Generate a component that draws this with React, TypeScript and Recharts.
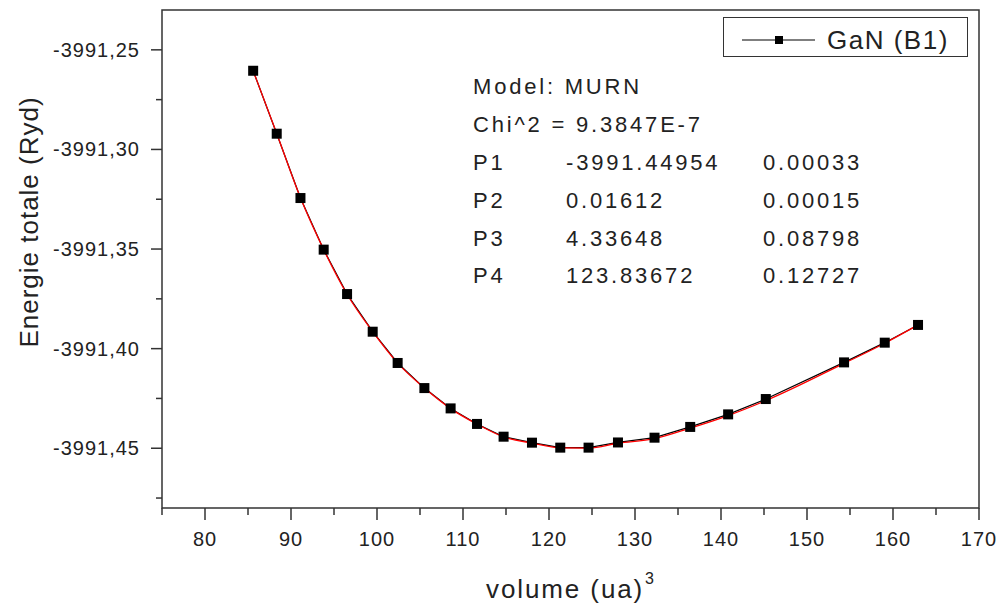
import { ComposedChart, Line, XAxis, YAxis, ReferenceArea } from "recharts";

// volume (ua)^3 of each calculated point
const volume = [
  85.6, 88.34, 91.1, 93.8, 96.52, 99.5, 102.4, 105.51, 108.56, 111.63, 114.72,
  118.02, 121.31, 124.6, 128.02, 132.27, 136.42, 140.83, 145.21, 154.31, 159.04, 162.91,
];

// total energy (Ryd) of each point
const energy = [
  -3991.2605, -3991.2921, -3991.3244, -3991.3503, -3991.3726, -3991.3915, -3991.4072,
  -3991.4198, -3991.43, -3991.4378, -3991.4442, -3991.4472, -3991.4497, -3991.4497,
  -3991.4471, -3991.4447, -3991.4393, -3991.433, -3991.4253, -3991.4069, -3991.397,
  -3991.3881,
];

// MURN fit at the same volumes
const fitEnergy = [
  -3991.2605, -3991.292, -3991.3243, -3991.3503, -3991.3727, -3991.3915, -3991.4073,
  -3991.4198, -3991.4301, -3991.4379, -3991.4443, -3991.4474, -3991.4498, -3991.4499,
  -3991.4475, -3991.4452, -3991.4399, -3991.4336, -3991.4261, -3991.4074, -3991.3973,
  -3991.3881,
];

const xTicks = [75, 80, 85, 90, 95, 100, 105, 110, 115, 120, 125, 130, 135, 140, 145, 150, 155, 160, 165, 170];
const yTicks = [
  -3991.475, -3991.45, -3991.425, -3991.4, -3991.375, -3991.35, -3991.325, -3991.3,
  -3991.275, -3991.25,
];

const fitHeader = ["Model: MURN", "Chi^2 = 9.3847E-7"];
const fitParams = [
  ["P1", "-3991.44954", "0.00033"],
  ["P2", "0.01612", "0.00015"],
  ["P3", "4.33648", "0.08798"],
  ["P4", "123.83672", "0.12727"],
];

const rows = volume.map((v, i) => ({ v, e: energy[i], fit: fitEnergy[i] }));

const INK = "#222";
const FONT = '"Liberation Sans", Arial, sans-serif';

const XTick = ({ x, y, payload }: any) => {
  const major = payload.value % 10 === 0;
  return (
    <g>
      <line x1={x} x2={x} y1={y} y2={y + (major ? 12 : 7)} stroke="#333" strokeWidth={1.5} />
      {major && (
        <text x={x} y={y + 38} textAnchor="middle" fontSize={20} letterSpacing={1} fill={INK} fontFamily={FONT}>
          {payload.value}
        </text>
      )}
    </g>
  );
};

const YTick = ({ x, y, payload }: any) => {
  const major = Math.round(payload.value * 1000) % 50 === 0;
  return (
    <g>
      <line x1={x} x2={x - (major ? 11 : 6)} y1={y} y2={y} stroke="#333" strokeWidth={1.5} />
      {major && (
        <text x={x - 22} y={y + 7} textAnchor="end" fontSize={20} letterSpacing={1} fill={INK} fontFamily={FONT}>
          {payload.value.toFixed(2).replace(".", ",")}
        </text>
      )}
    </g>
  );
};

const Square = (p: any) => (
  <rect key={p.index} x={p.cx - 5} y={p.cy - 5} width={10} height={10} fill="#000" />
);

export default function App() {
  return (
    <div style={{ position: "absolute", left: 0, top: 0, width: 999, height: 605, background: "#fff", fontFamily: FONT }}>
      <ComposedChart width={999} height={605} data={rows} margin={{ top: 10, right: 20, bottom: 0, left: 0 }}>
        <XAxis
          dataKey="v"
          type="number"
          domain={[75, 170]}
          ticks={xTicks}
          interval={0}
          height={97}
          axisLine={false}
          tickLine={false}
          tickSize={0}
          tickMargin={0}
          tick={<XTick />}
          allowDataOverflow
        />
        <YAxis
          type="number"
          domain={[-3991.48, -3991.23]}
          ticks={yTicks}
          interval={0}
          width={162}
          axisLine={false}
          tickLine={false}
          tickSize={0}
          tickMargin={0}
          tick={<YTick />}
          allowDataOverflow
        />
        <ReferenceArea x1={75} x2={170} y1={-3991.48} y2={-3991.23} fill="none" stroke="#333" strokeWidth={1.5} />
        <Line dataKey="e" type="linear" stroke="#000" strokeWidth={1.2} dot={Square} activeDot={false} isAnimationActive={false} />
        <Line dataKey="fit" type="monotone" stroke="#ff0000" strokeWidth={1.3} dot={false} activeDot={false} isAnimationActive={false} />
      </ComposedChart>

      <svg width={999} height={605} style={{ position: "absolute", left: 0, top: 0, pointerEvents: "none" }}>
        <g fill={INK} fontFamily={FONT} fontSize={22} letterSpacing={2.8}>
          {fitHeader.map((t, i) => (
            <text key={t} x={473} y={94 + i * 38}>{t}</text>
          ))}
          {fitParams.map((r, i) => (
            <g key={r[0]}>
              <text x={473} y={170 + i * 37.8}>{r[0]}</text>
              <text x={566} y={170 + i * 37.8}>{r[1]}</text>
              <text x={763} y={170 + i * 37.8}>{r[2]}</text>
            </g>
          ))}
        </g>
        <text x={38} y={222} transform="rotate(-90 38 222)" textAnchor="middle" fontSize={26} letterSpacing={1} fill={INK} fontFamily={FONT}>
          Energie totale (Ryd)
        </text>
        <text x={486} y={598} fontSize={26} letterSpacing={1.9} fill={INK} fontFamily={FONT}>
          volume (ua)
        </text>
        <text x={645} y={584} fontSize={16} fill={INK} fontFamily={FONT}>3</text>
      </svg>

      <div
        style={{
          position: "absolute",
          left: 723,
          top: 17,
          width: 245,
          height: 40,
          border: "1.5px solid #333",
          boxSizing: "border-box",
          background: "#fff",
        }}
      >
        <svg width={242} height={37} style={{ display: "block" }}>
          <line x1={18} x2={91} y1={22} y2={22} stroke="#000" strokeWidth={1.2} />
          <rect x={51} y={18} width={8} height={8} fill="#000" />
          <text x={103} y={31} fontSize={26} letterSpacing={1.5} fill={INK} fontFamily={FONT}>
            GaN (B1)
          </text>
        </svg>
      </div>
    </div>
  );
}
